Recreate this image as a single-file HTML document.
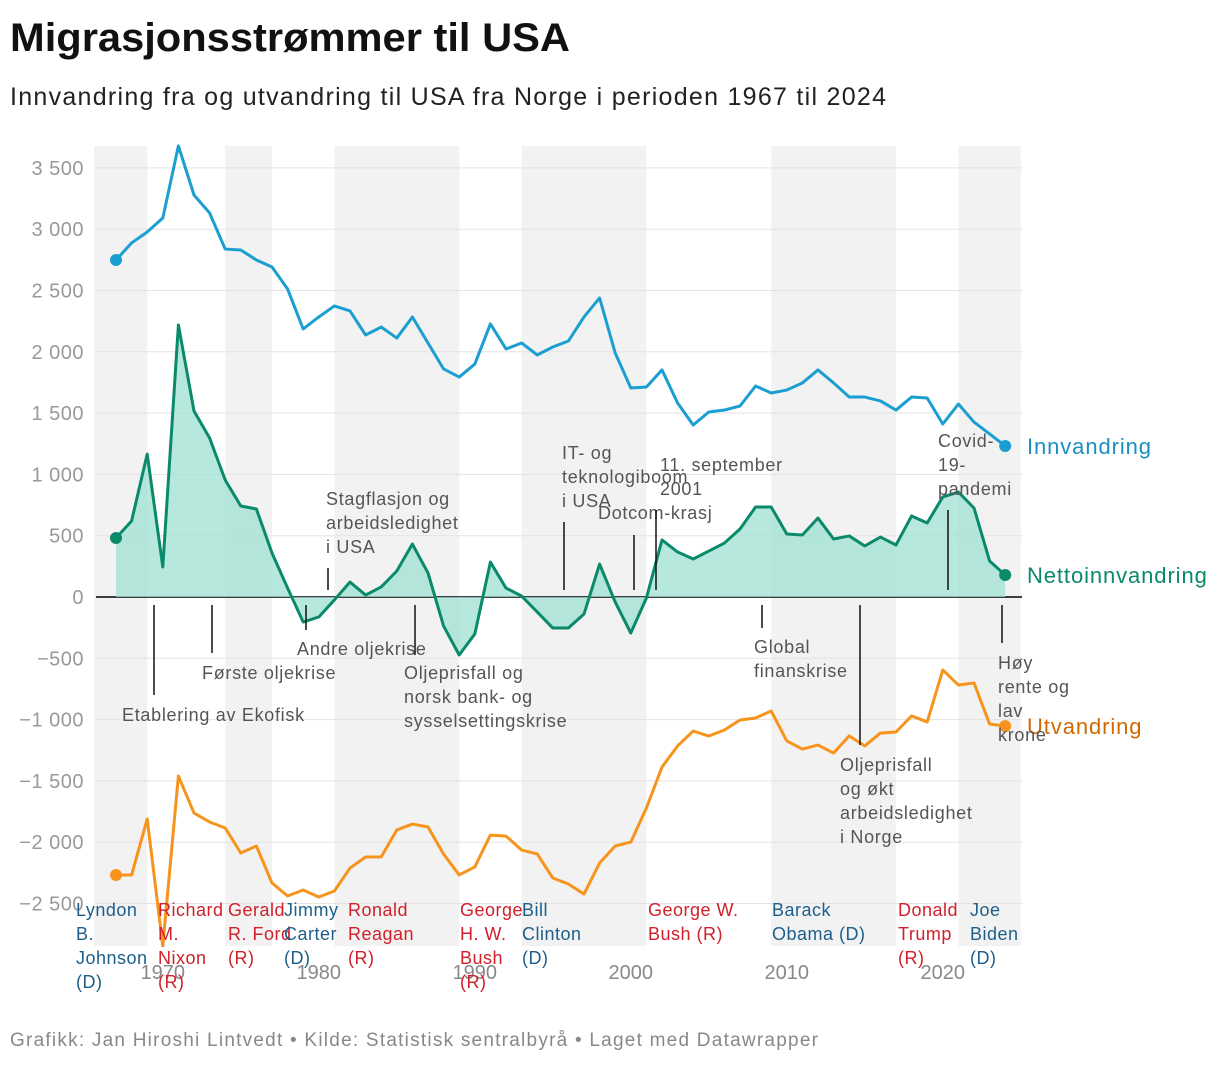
<!DOCTYPE html>
<html><head><meta charset="utf-8">
<style>
body{margin:0;background:#fff;font-family:"Liberation Sans",sans-serif;}
svg text{font-family:"Liberation Sans",sans-serif;}
</style></head>
<body>
<svg id="chart" width="1220" height="1062" xmlns="http://www.w3.org/2000/svg">
<text x="10" y="51" font-size="40" font-weight="bold" fill="#111" textLength="560" lengthAdjust="spacingAndGlyphs">Migrasjonsstrømmer til USA</text>
<text x="10" y="105" font-size="25" fill="#222" textLength="876" lengthAdjust="spacing">Innvandring fra og utvandring til USA fra Norge i perioden 1967 til 2024</text>
<g id="bands"></g><g id="grid"></g><g id="series"></g><g id="annot"></g><g id="pres"></g>
<text x="10" y="1046" font-size="19" fill="#888" textLength="808" lengthAdjust="spacing">Grafikk: Jan Hiroshi Lintvedt • Kilde: Statistisk sentralbyrå • Laget med Datawrapper</text>
</svg>
<script>
const years=[];for(let y=1967;y<=2024;y++)years.push(y);
const innvandring=[2749,2888,2977,3091,3679,3279,3132,2838,2830,2749,2692,2512,2186,2284,2374,2333,2137,2202,2112,2284,2072,1860,1794,1900,2227,2023,2072,1974,2039,2088,2284,2439,1990,1705,1713,1852,1582,1403,1509,1525,1558,1721,1664,1688,1746,1852,1746,1631,1631,1599,1525,1631,1623,1411,1574,1427,1330,1232];
const netto=[481,620,1166,245,2219,1517,1297,954,742,718,359,73,-204,-163,-24,122,16,82,212,432,196,-237,-473,-302,285,73,8,-122,-253,-253,-139,269,-41,-294,-8,465,367,310,375,440,555,734,734,514,506,644,473,498,416,489,424,661,604,816,856,726,294,179];
const utvandring=[-2268,-2268,-1811,-2846,-1460,-1762,-1835,-1884,-2088,-2031,-2333,-2439,-2390,-2447,-2398,-2211,-2121,-2120,-1900,-1852,-1876,-2097,-2267,-2202,-1942,-1950,-2064,-2096,-2292,-2341,-2423,-2170,-2031,-1999,-1721,-1387,-1215,-1093,-1134,-1085,-1003,-987,-930,-1174,-1240,-1208,-1273,-1133,-1215,-1110,-1101,-970,-1019,-595,-718,-701,-1036,-1053];
const yTicks=[3500,3000,2500,2000,1500,1000,500,0,-500,-1000,-1500,-2000,-2500];
const xTicks=[1970,1980,1990,2000,2010,2020];
const bandStarts=[1965.6,1974,1981,1993,2009,2021];
const bandEnds=[1969,1977,1989,2001,2017,2025];
const NS="http://www.w3.org/2000/svg";
const X=y=>116+(y-1967)*15.6;
const Y=v=>597-v*0.1226;
function mk(p,t,a){const e=document.createElementNS(NS,t);for(const k in a)e.setAttribute(k,a[k]);document.getElementById(p).appendChild(e);return e;}
bandStarts.forEach((s,i)=>{const r=mk('bands','rect',{x:X(s),y:146,width:X(bandEnds[i])-X(s),height:800,fill:'#f2f2f2'});

});
yTicks.forEach(v=>{const l=mk('grid','line',{x1:96,x2:1022,y1:Y(v),y2:Y(v),stroke:v===0?'#000':'#e3e3e3','stroke-width':v===0?1.5:1});


const t=mk('grid','text',{x:84,y:Y(v)+7,'text-anchor':'end','font-size':20,fill:'#999','letter-spacing':0.5});t.textContent=(v<0?'−':'')+Math.abs(v).toLocaleString('fr-FR').replace(/\u202f|\u00a0/g,' ');

});
xTicks.forEach(v=>{const t=mk('grid','text',{x:X(v),y:979,'text-anchor':'middle','font-size':20,fill:'#888'});t.textContent=v;

});
let area='M'+X(years[0])+','+Y(0);years.forEach((y,i)=>area+='L'+X(y)+','+Y(netto[i]));area+='L'+X(2024)+','+Y(0)+'Z';
const ar=mk('series','path',{d:area,fill:'#9ee0d2','fill-opacity':0.75});


const series=[[innvandring,'#1a9fd0','innvandring','Innvandring','#1a8fc0'],[netto,'#0a8a6a','nettoinnvandring','Nettoinnvandring','#0a8a6a'],[utvandring,'#f7941d','utvandring','Utvandring','#d06a00']];
series.forEach(([d,c,n,lab,lc])=>{const p=mk('series','path',{d:'M'+years.map((y,i)=>X(y)+','+Y(d[i])).join('L'),fill:'none',stroke:c,'stroke-width':3,'stroke-linejoin':'round'});


[0,d.length-1].forEach(i=>{const c1=mk('series','circle',{cx:X(years[i]),cy:Y(d[i]),r:6,fill:c});

});
const t=mk('series','text',{x:1027,y:Y(d[d.length-1])+8,'font-size':22,fill:lc,'letter-spacing':0.9});t.textContent=lab;

});
const annots=[[['Etablering av Ekofisk'],122,721,154,605,695],[['Første oljekrise'],202,679,212,605,653],[['Andre oljekrise'],297,655,306,605,630],[['Stagflasjon og','arbeidsledighet','i USA'],326,505,328,568,590],[['Oljeprisfall og','norsk bank- og','sysselsettingskrise'],404,679,415,605,655],[['IT- og','teknologiboom','i USA'],562,459,564,522,590],[['Dotcom-krasj'],598,519,634,535,590],[['11. september','2001'],660,471,656,510,590],[['Global','finanskrise'],754,653,762,605,628],[['Oljeprisfall','og økt','arbeidsledighet','i Norge'],840,771,860,605,745],[['Covid-','19-','pandemi'],938,447,948,510,590],[['Høy','rente og','lav','krone'],998,669,1002,605,643]];
annots.forEach(([lines,x,y,lx,y1,y2])=>{const l=mk('annot','line',{x1:lx,x2:lx,y1:y1,y2:y2,stroke:'#111','stroke-width':1.5});


lines.forEach((s,i)=>{const t=mk('annot','text',{x:x,y:y+i*24,'font-size':18,fill:'#555','letter-spacing':0.7});t.textContent=s;

});});
const pres=[[['Lyndon','B.','Johnson','(D)'],76,'D'],[['Richard','M.','Nixon','(R)'],158,'R'],[['Gerald','R. Ford','(R)'],228,'R'],[['Jimmy','Carter','(D)'],284,'D'],[['Ronald','Reagan','(R)'],348,'R'],[['George','H. W.','Bush','(R)'],460,'R'],[['Bill','Clinton','(D)'],522,'D'],[['George W.','Bush (R)'],648,'R'],[['Barack','Obama (D)'],772,'D'],[['Donald','Trump','(R)'],898,'R'],[['Joe','Biden','(D)'],970,'D']];
pres.forEach(([lines,x,p])=>{lines.forEach((s,i)=>{const t=mk('pres','text',{x:x,y:916+i*24,'font-size':18,fill:p==='D'?'#1d5f8a':'#d0202a','letter-spacing':0.5});t.textContent=s;

});});
</script>
</body></html>
